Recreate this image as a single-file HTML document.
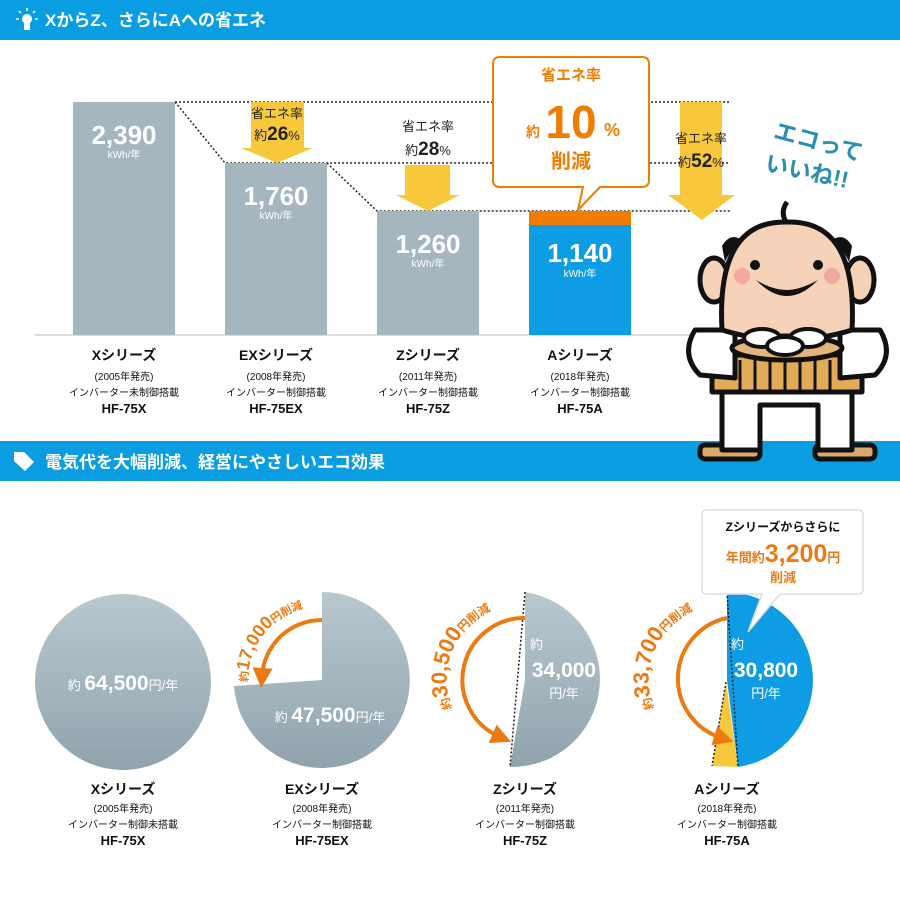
<!DOCTYPE html>
<html><head><meta charset="utf-8"><style>
body{margin:0;background:#fff;}
svg{display:block;font-family:"Liberation Sans","Noto Sans CJK JP",sans-serif;}
</style></head><body>
<svg width="900" height="900" viewBox="0 0 900 900" xmlns="http://www.w3.org/2000/svg">
<defs>
<linearGradient id="pg" x1="0" y1="0" x2="0" y2="1"><stop offset="0" stop-color="#b9c8cf"/><stop offset="1" stop-color="#90a3ad"/></linearGradient>
<marker id="ah" markerWidth="5" markerHeight="5" refX="2" refY="2.5" orient="auto"><path d="M0,0 L5,2.5 L0,5 z" fill="#ec7a12"/></marker>
<path id="t2" d="M248,682 A74,74 0 0 1 322,606"/>
<path id="t3" d="M452,708 A76,76 0 0 1 525,604"/>
<path id="t4" d="M654,708 A76,76 0 0 1 727,604"/>
</defs>
<rect x="0" y="0" width="900" height="40" fill="#0a9de2"/>
<g fill="#fff"><circle cx="27" cy="19" r="5"/><rect x="24" y="23" width="6" height="7"/></g>
<g stroke="#fff" stroke-width="1.5"><line x1="27" y1="8" x2="27" y2="11"/><line x1="16" y1="19" x2="19" y2="19"/><line x1="35" y1="19" x2="38" y2="19"/><line x1="19" y1="11" x2="21" y2="13"/><line x1="35" y1="11" x2="33" y2="13"/></g>
<text x="45" y="26" font-size="17" font-weight="bold" fill="#fff">XからZ、さらにAへの省エネ</text>

<line x1="35" y1="335" x2="690" y2="335" stroke="#bbb" stroke-width="1"/>
<g stroke="#222" stroke-width="1.5" stroke-dasharray="2,2" fill="none">
<path d="M175,102 H730"/><path d="M175,102 L225,163 H730"/><path d="M327,163 L377,211 H730"/>
</g>
<g fill="#f8c83c">
<path d="M251,102 H304 V148 H313 L277,163 L241,148 H251 Z"/>
<path d="M405,165 H450 V195 H460 L428,211 L396,195 H405 Z"/>
<path d="M680,102 H722 V195 H735 L702,220 L668,195 H680 Z"/>
</g>
<rect x="73" y="102" width="102" height="233" fill="#a5b6be"/>
<rect x="225" y="163" width="102" height="172" fill="#a5b6be"/>
<rect x="377" y="211" width="102" height="124" fill="#a5b6be"/>
<rect x="529" y="211" width="102" height="14" fill="#f07d00"/>
<rect x="529" y="225" width="102" height="110" fill="#0e9de5"/>
<g fill="#fff" text-anchor="middle" font-weight="bold">
<text x="124" y="144" font-size="26">2,390</text><text x="124" y="158" font-size="10" font-weight="normal">kWh/年</text>
<text x="276" y="205" font-size="26">1,760</text><text x="276" y="219" font-size="10" font-weight="normal">kWh/年</text>
<text x="428" y="253" font-size="26">1,260</text><text x="428" y="267" font-size="10" font-weight="normal">kWh/年</text>
<text x="580" y="262" font-size="26">1,140</text><text x="580" y="277" font-size="10" font-weight="normal">kWh/年</text>
</g>
<g text-anchor="middle" fill="#222">
<text x="277" y="118" font-size="13">省エネ率</text><text x="277" y="140" font-size="13">約<tspan font-size="19" font-weight="bold">26</tspan>%</text>
<text x="428" y="131" font-size="13">省エネ率</text><text x="428" y="155" font-size="13">約<tspan font-size="19" font-weight="bold">28</tspan>%</text>
<text x="701" y="143" font-size="13">省エネ率</text><text x="701" y="167" font-size="13">約<tspan font-size="19" font-weight="bold">52</tspan>%</text>
</g>
<path d="M500,57 H642 Q649,57 649,64 V180 Q649,187 642,187 H600 L578,210 L583,187 H500 Q493,187 493,180 V64 Q493,57 500,57 Z" fill="#fff" stroke="#f07d00" stroke-width="2"/>
<g fill="#f07d00" text-anchor="middle" font-weight="bold">
<text x="571" y="80" font-size="15">省エネ率</text>
<text x="533" y="137" font-size="14">約</text>
<text x="571" y="138" font-size="46">10</text>
<text x="612" y="136" font-size="18">%</text>
<text x="571" y="168" font-size="20">削減</text>
</g>
<g text-anchor="middle" fill="#111">
<g transform="translate(124,0)"><text y="360" font-size="14" font-weight="bold">Xシリーズ</text><text y="380" font-size="10">(2005年発売)</text><text y="396" font-size="10">インバーター未制御搭載</text><text y="413" font-size="13" font-weight="bold">HF-75X</text></g>
<g transform="translate(276,0)"><text y="360" font-size="14" font-weight="bold">EXシリーズ</text><text y="380" font-size="10">(2008年発売)</text><text y="396" font-size="10">インバーター制御搭載</text><text y="413" font-size="13" font-weight="bold">HF-75EX</text></g>
<g transform="translate(428,0)"><text y="360" font-size="14" font-weight="bold">Zシリーズ</text><text y="380" font-size="10">(2011年発売)</text><text y="396" font-size="10">インバーター制御搭載</text><text y="413" font-size="13" font-weight="bold">HF-75Z</text></g>
<g transform="translate(580,0)"><text y="360" font-size="14" font-weight="bold">Aシリーズ</text><text y="380" font-size="10">(2018年発売)</text><text y="396" font-size="10">インバーター制御搭載</text><text y="413" font-size="13" font-weight="bold">HF-75A</text></g>
</g>

<rect x="0" y="441" width="900" height="40" fill="#0a9de2"/>
<path d="M14,452 L24,452 L34,462 L25,471 L14,461 Z" fill="#fff"/>
<text x="45" y="468" font-size="17" font-weight="bold" fill="#fff">電気代を大幅削減、経営にやさしいエコ効果</text>

<g fill="#2b8fb0" font-weight="bold" font-size="23">
<text x="773" y="145" transform="rotate(15 800 140)">エコって</text>
<text x="765" y="178" transform="rotate(12 800 170)">いいね!!</text>
</g>
<g stroke="#111" stroke-width="5" stroke-linejoin="round">
<rect x="700" y="445" width="60" height="14" rx="5" fill="#d9a96a"/>
<rect x="815" y="445" width="60" height="14" rx="5" fill="#d9a96a"/>
<path d="M722,385 H852 V450 H818 V405 H760 V450 H722 Z" fill="#fff"/>
<path d="M712,355 H862 V392 H712 Z" fill="#e2ab58"/>
<path d="M695,330 Q680,355 700,375 L735,378 L735,330 Z" fill="#fff"/>
<path d="M880,330 Q895,355 875,375 L840,378 L840,330 Z" fill="#fff"/>
<ellipse cx="714" cy="280" rx="14" ry="22" fill="#f6d2b8"/>
<ellipse cx="860" cy="280" rx="14" ry="22" fill="#f6d2b8"/>
<path d="M722,330 Q716,220 787,222 Q858,220 852,330 Q787,350 722,330 Z" fill="#f6d2b8"/>
<path d="M786,222 Q780,212 787,202" fill="none"/>
<ellipse cx="787" cy="348" rx="55" ry="12" fill="#e2b57a"/>
</g>
<g fill="#111"><circle cx="755" cy="265" r="5"/><circle cx="818" cy="265" r="5"/>
<path d="M756,280 Q787,312 818,280 Q800,290 787,290 Q772,290 756,280 Z"/>
<path d="M722,246 Q730,232 742,240 Q730,250 725,262 Z"/><path d="M852,246 Q844,232 832,240 Q844,250 849,262 Z"/></g>
<circle cx="742" cy="276" r="8" fill="#f2a7a0"/><circle cx="832" cy="276" r="8" fill="#f2a7a0"/>
<g fill="#fff" stroke="#111" stroke-width="4"><ellipse cx="762" cy="338" rx="18" ry="9"/><ellipse cx="808" cy="338" rx="18" ry="9"/><ellipse cx="785" cy="346" rx="18" ry="9"/></g>
<g stroke="#111" stroke-width="3"><line x1="740" y1="360" x2="740" y2="390"/><line x1="755" y1="360" x2="755" y2="390"/><line x1="770" y1="360" x2="770" y2="390"/><line x1="785" y1="360" x2="785" y2="390"/><line x1="800" y1="360" x2="800" y2="390"/><line x1="815" y1="360" x2="815" y2="390"/><line x1="830" y1="360" x2="830" y2="390"/></g>

<circle cx="123" cy="682" r="88" fill="url(#pg)"/>
<text x="123" y="690" text-anchor="middle" fill="#fff" font-size="13">約 <tspan font-size="21" font-weight="bold">64,500</tspan>円/年</text>

<path d="M322,680 L322,592 A88,88 0 1 1 234,686 Z" fill="url(#pg)"/>
<text x="330" y="722" text-anchor="middle" fill="#fff" font-size="13">約 <tspan font-size="21" font-weight="bold">47,500</tspan>円/年</text>

<path d="M525,680 L525,592 A88,88 0 0 1 510,767 Z" fill="url(#pg)"/>
<path d="M525,592 L510,767" stroke="#222" stroke-width="1.5" stroke-dasharray="2,2"/>
<g fill="#fff" text-anchor="middle"><text x="530" y="649" font-size="13" text-anchor="start">約</text><text x="564" y="677" font-size="21" font-weight="bold">34,000</text><text x="564" y="698" font-size="13">円/年</text></g>

<path d="M727,680 L727,592 A88,88 0 0 1 738,767 Z" fill="#0e9de5"/>
<path d="M726,682 L738,767 L712,766 Z" fill="#f8c83c"/>
<path d="M727,592 L738,767 M726,682 L712,766" stroke="#222" stroke-width="1.5" stroke-dasharray="2,2"/>
<g fill="#fff" text-anchor="middle"><text x="731" y="649" font-size="13" text-anchor="start">約</text><text x="766" y="677" font-size="21" font-weight="bold">30,800</text><text x="766" y="698" font-size="13">円/年</text></g>

<g fill="none" stroke="#ec7a12" stroke-width="4">
<path d="M322,620 A60,60 0 0 0 262,676" marker-end="url(#ah)"/>
<path d="M525,618 A62,62 0 0 0 500,737" marker-end="url(#ah)"/>
<path d="M727,618 A62,62 0 0 0 722,738" marker-end="url(#ah)"/>
</g>
<g fill="#ec7a12" font-weight="bold">
<text font-size="11"><textPath href="#t2">約<tspan font-size="18">17,000</tspan>円削減</textPath></text>
<text font-size="12"><textPath href="#t3">約<tspan font-size="22">30,500</tspan>円削減</textPath></text>
<text font-size="12"><textPath href="#t4">約<tspan font-size="22">33,700</tspan>円削減</textPath></text>
</g>

<path d="M707,510 H858 Q863,510 863,515 V589 Q863,594 858,594 H780 L748,632 L762,594 H707 Q702,594 702,589 V515 Q702,510 707,510 Z" fill="#fff" stroke="#ddd" stroke-width="1.5"/>
<text x="783" y="531" text-anchor="middle" font-size="12" font-weight="bold" fill="#111">Zシリーズからさらに</text>
<text x="783" y="562" text-anchor="middle" fill="#ec7a12" font-weight="bold" font-size="13">年間約<tspan font-size="25">3,200</tspan>円</text>
<text x="783" y="582" text-anchor="middle" fill="#ec7a12" font-weight="bold" font-size="13">削減</text>

<g text-anchor="middle" fill="#111">
<g transform="translate(123,0)"><text y="794" font-size="14" font-weight="bold">Xシリーズ</text><text y="812" font-size="10">(2005年発売)</text><text y="828" font-size="10">インバーター制御未搭載</text><text y="845" font-size="13" font-weight="bold">HF-75X</text></g>
<g transform="translate(322,0)"><text y="794" font-size="14" font-weight="bold">EXシリーズ</text><text y="812" font-size="10">(2008年発売)</text><text y="828" font-size="10">インバーター制御搭載</text><text y="845" font-size="13" font-weight="bold">HF-75EX</text></g>
<g transform="translate(525,0)"><text y="794" font-size="14" font-weight="bold">Zシリーズ</text><text y="812" font-size="10">(2011年発売)</text><text y="828" font-size="10">インバーター制御搭載</text><text y="845" font-size="13" font-weight="bold">HF-75Z</text></g>
<g transform="translate(727,0)"><text y="794" font-size="14" font-weight="bold">Aシリーズ</text><text y="812" font-size="10">(2018年発売)</text><text y="828" font-size="10">インバーター制御搭載</text><text y="845" font-size="13" font-weight="bold">HF-75A</text></g>
</g>
</svg>
</body></html>
